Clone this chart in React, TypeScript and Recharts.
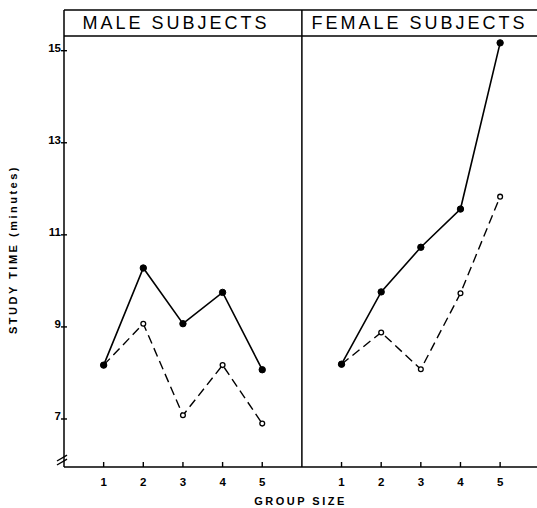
import React from 'react';
import { LineChart, Line, XAxis, YAxis, ReferenceLine, ReferenceArea } from 'recharts';

const groupSizes = [1, 2, 3, 4, 5];
const panelOffset = 6; // female panel is placed after the male panel on the x scale
const maleSolid = [8.17, 10.28, 9.07, 9.75, 8.07];
const maleDashed = [8.17, 9.07, 7.08, 8.17, 6.9];
const femaleSolid = [8.19, 9.76, 10.73, 11.56, 15.17];
const femaleDashed = [8.19, 8.88, 8.08, 9.73, 11.83];
const yTicks = [7, 9, 11, 13, 15];
const xTicks = [1, 2, 3, 4, 5, 7, 8, 9, 10, 11];
const panelTitles = ['MALE SUBJECTS', 'FEMALE SUBJECTS'];
const yLabel = 'STUDY TIME (minutes)';
const xLabel = 'GROUP SIZE';

const X_DOMAIN: [number, number] = [0, 11.93];
const Y_DOMAIN: [number, number] = [5.957, 15.884];
const TITLE_BOTTOM = 15.32;

const FONT = '"Liberation Sans", Arial, sans-serif';

const toData = (vals: number[], offset: number) =>
  groupSizes.map((g, i) => ({ x: g + offset, y: vals[i] }));

const maleSolidData = toData(maleSolid, 0);
const maleDashedData = toData(maleDashed, 0);
const femaleSolidData = toData(femaleSolid, panelOffset);
const femaleDashedData = toData(femaleDashed, panelOffset);

const XTick = (props: any) => {
  const { x, y, payload } = props;
  const v = payload.value > panelOffset ? payload.value - panelOffset : payload.value;
  return (
    <g>
      <line x1={x} x2={x} y1={y} y2={y - 5} stroke="#000" strokeWidth={1.4} />
      <text x={x} y={y + 18.5} textAnchor="middle" fontFamily={FONT} fontWeight="bold" fontSize={11.5} fill="#000">
        {v}
      </text>
    </g>
  );
};

const YTick = (props: any) => {
  const { x, y, payload } = props;
  return (
    <g>
      <line x1={x - 3} x2={x + 3} y1={y} y2={y} stroke="#000" strokeWidth={1.4} />
      <text x={x - 3} y={y + 1} textAnchor="end" fontFamily={FONT} fontWeight="bold" fontSize={11.5} fill="#000">
        {payload.value}
      </text>
    </g>
  );
};

const YLabel = (props: any) => {
  const vb = props.viewBox || { x: 0, y: 0, width: 0, height: 0 };
  const cx = vb.x + 13;
  const cy = vb.y + vb.height / 2 + 11;
  return (
    <text
      x={cx}
      y={cy}
      transform={`rotate(-90 ${cx} ${cy})`}
      textAnchor="middle"
      dominantBaseline="central"
      fontFamily={FONT}
      fontWeight="bold"
      fontSize={11}
      letterSpacing={2.5}
      fill="#000"
    >
      {yLabel}
    </text>
  );
};

const solidDot = { r: 3.2, fill: '#000', stroke: '#000', strokeWidth: 1 };
const openDot = { r: 2.4, fill: '#fff', stroke: '#000', strokeWidth: 1.3, strokeDasharray: '0' };

export default function App() {
  return (
    <div style={{ position: 'absolute', left: 0, top: 0, width: 537, height: 508, background: '#fff' }}>
      <LineChart width={537} height={508} margin={{ top: 10, right: 0, bottom: 0, left: 0 }}>
        <XAxis
          dataKey="x"
          type="number"
          domain={X_DOMAIN}
          ticks={xTicks}
          allowDataOverflow
          height={41}
          tickSize={0}
          tickMargin={0}
          tick={<XTick />}
          axisLine={{ stroke: '#000', strokeWidth: 1.5 }}
          interval={0}
          label={{
            value: xLabel,
            position: 'insideBottom',
            offset: 3,
            fontFamily: FONT,
            fontWeight: 'bold',
            fontSize: 11,
            letterSpacing: 2.5,
            fill: '#000',
          }}
        />
        <YAxis
          type="number"
          domain={Y_DOMAIN}
          ticks={yTicks}
          allowDataOverflow
          width={64}
          tickSize={0}
          tickMargin={0}
          tick={<YTick />}
          axisLine={{ stroke: '#000', strokeWidth: 1.5 }}
          interval={0}
          label={{ content: <YLabel /> }}
        />
        <ReferenceLine y={Y_DOMAIN[1]} stroke="#000" strokeWidth={1.5} />
        <ReferenceLine y={TITLE_BOTTOM} stroke="#000" strokeWidth={1.5} />
        <ReferenceLine x={panelOffset} stroke="#000" strokeWidth={1.5} />
        <ReferenceArea
          x1={0}
          x2={panelOffset}
          y1={TITLE_BOTTOM}
          y2={Y_DOMAIN[1]}
          fill="none"
          fillOpacity={0}
          stroke="none"
          label={{
            value: panelTitles[0],
            position: 'center',
            dx: -7,
            fontFamily: FONT,
            fontSize: 18,
            letterSpacing: 3,
            fill: '#000',
          }}
        />
        <ReferenceArea
          x1={panelOffset}
          x2={X_DOMAIN[1]}
          y1={TITLE_BOTTOM}
          y2={Y_DOMAIN[1]}
          fill="none"
          fillOpacity={0}
          stroke="none"
          label={{
            value: panelTitles[1],
            position: 'center',
            dx: 0,
            fontFamily: FONT,
            fontSize: 18,
            letterSpacing: 3,
            fill: '#000',
          }}
        />
        <ReferenceLine
          segment={[{ x: -0.177, y: 6.087 }, { x: 0.076, y: 6.217 }]}
          ifOverflow="visible"
          stroke="#000"
          strokeWidth={1.4}
        />
        <ReferenceLine
          segment={[{ x: -0.177, y: 6.0 }, { x: 0.076, y: 6.13 }]}
          ifOverflow="visible"
          stroke="#000"
          strokeWidth={1.4}
        />
        <Line data={maleDashedData} dataKey="y" type="linear" stroke="#000" strokeWidth={1.4} strokeDasharray="9 5" dot={openDot} activeDot={false} isAnimationActive={false} />
        <Line data={femaleDashedData} dataKey="y" type="linear" stroke="#000" strokeWidth={1.4} strokeDasharray="9 5" dot={openDot} activeDot={false} isAnimationActive={false} />
        <Line data={maleSolidData} dataKey="y" type="linear" stroke="#000" strokeWidth={1.6} dot={solidDot} activeDot={false} isAnimationActive={false} />
        <Line data={femaleSolidData} dataKey="y" type="linear" stroke="#000" strokeWidth={1.6} dot={solidDot} activeDot={false} isAnimationActive={false} />
      </LineChart>
    </div>
  );
}
